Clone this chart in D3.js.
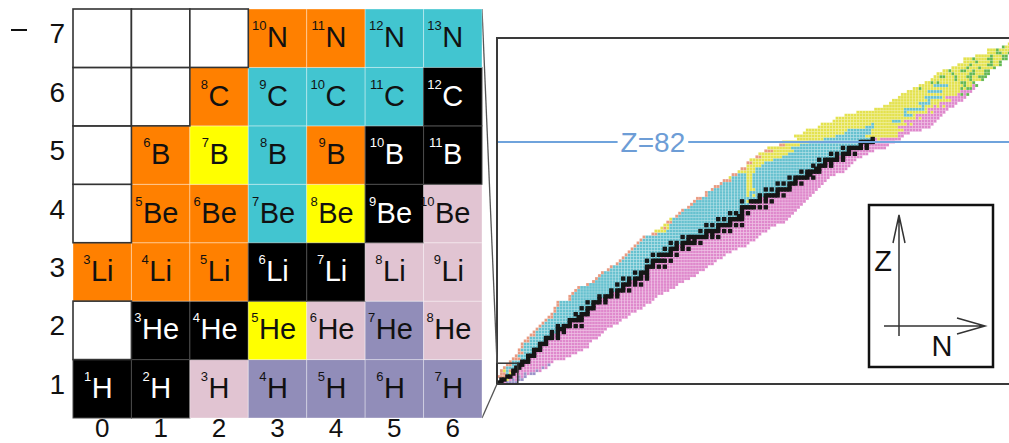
<!DOCTYPE html>
<html>
<head>
<meta charset="utf-8">
<script src="https://cdn.jsdelivr.net/npm/d3@7"></script>
<style>
  body { margin: 0; background: #fff; }
  svg { display: block; font-family: "Liberation Sans", Arial, sans-serif; }
</style>
</head>
<body>
<svg id="chart" width="1009" height="443"></svg>
<script>

// element symbols for the zoomed grid (Z = 1..7)
var elementSymbols = ["H", "He", "Li", "Be", "B", "C", "N"];
var gridN = [0, 1, 2, 3, 4, 5, 6];
var gridZ = [1, 2, 3, 4, 5, 6, 7];

// one row per Z (1..118): first N, then runs of decay mode + length
// k stable, c beta+/EC, m beta-, y alpha, o proton, v neutron, g fission
var isotopeRuns = [
  "0 k2 m1 v4", "1 k2 y1 m1 v1 m1 v2", "0 o3 k2 m2 v1 m1 v1", "1 o2 c1 y1 k1 m3 v1 m1 v2",
  "1 o1 y1 c1 o1 k2 m6 v1 m1", "2 o1 c3 k2 m7 v1 m1", "3 o2 c2 k2 m8 v1", "4 o1 c3 k3 m8",
  "5 o3 c2 k1 m12", "6 o1 c3 k3 m12", "7 o2 c3 k1 m14", "7 o1 c4 k3 m14",
  "8 o1 c5 k1 m16", "8 o1 c5 k3 m14", "9 o2 c5 k1 m15", "10 o1 c5 k3 m1 k1 m13",
  "11 o2 c5 k1 m1 k1 m14", "12 o1 c5 k1 c1 k1 m1 k1 m13", "13 o1 c6 k3 m14",
  "14 o1 c5 k1 c1 k3 m1 k1 m1 k1 m10", "15 o1 c8 k1 m16", "16 o1 c7 k5 m13",
  "17 o2 c8 k2 m15", "18 o1 c7 k1 c1 k3 m14", "19 o1 c10 k1 m16", "19 o1 c8 k1 c1 k3 m16",
  "20 o1 c11 k1 m17", "20 o1 c9 k1 c1 k3 m1 k1 m15", "24 o1 c9 k1 m1 k1 m16",
  "24 o1 c9 k1 c1 k3 m1 k1 m13", "25 o1 c12 k1 m1 k1 m15", "26 o1 c11 k1 c1 k3 m1 k1 m13",
  "27 o1 c14 k1 m17", "30 o1 c9 k1 c1 k3 m1 k1 m1 k1 m12", "32 o1 c11 k1 m1 k1 m16",
  "33 o1 c8 k1 c1 k1 c1 k3 m1 k1 m14", "34 o1 c13 k1 m1 k1 m16", "35 o1 c10 k1 c1 k3 m17",
  "37 o1 c12 k1 m19", "38 o1 c11 k3 m1 k1 m1 k1 m14", "40 o1 c11 k1 m20",
  "41 o1 c8 k1 c1 k5 m1 k1 m15", "42 o1 c12 m21", "43 o1 c8 k1 c1 k5 m1 k1 m16",
  "44 o1 c13 k1 m20", "45 o1 c10 k1 c1 k3 m1 k1 m1 k1 m16", "46 o1 c13 k1 m1 k1 m21",
  "47 o1 c10 k1 c1 k1 c1 k5 m1 k1 m16", "48 o1 c15 k1 m1 k1 m20",
  "49 o1 c12 k1 c1 k7 m1 k1 m1 k1 m13", "52 o2 c16 k1 m1 k1 m16",
  "53 y4 c11 k1 c1 k5 m1 k1 m1 k1 m12", "55 y1 o1 y1 c16 k1 m17",
  "56 y2 c12 k1 c1 k1 c1 k5 m1 k1 m1 k1 m11", "57 o2 c19 k1 m18",
  "58 y1 c15 k1 c1 k1 c1 k5 m15", "60 o1 c20 k2 m16", "61 o1 c16 k1 c1 k1 c1 k1 m1 k1 m15",
  "62 o1 c19 k1 m18", "64 o1 c17 k5 m1 k1 m1 k1 m11", "65 o1 c19 m18",
  "66 o1 c15 k1 c1 y1 k4 m1 k1 m1 k1 m11", "67 o2 c19 k1 m1 k1 m14",
  "70 o1 c13 y1 c1 y1 c1 k1 c1 k5 m1 k1 m9", "70 o1 c13 y1 c9 k1 m12",
  "72 o1 c11 y3 c3 k1 c1 k1 c1 k5 m9", "73 o2 c9 y2 c12 k1 m10",
  "75 o1 c8 y2 c8 k1 c1 k1 c1 k3 m1 k1 m7", "76 o3 c5 y2 c14 k1 m10",
  "78 y1 c5 y2 c12 k1 c1 k5 m1 k1 m5", "79 o2 c3 y2 c18 k2 m8", "81 y6 c15 k1 c1 k5 m8",
  "82 o2 y3 c20 k2 m9", "84 y5 c17 k1 c1 k3 m1 k1 m6", "84 o2 y4 c20 k1 m1 k1 m7",
  "85 y8 c15 k1 c1 k5 m1 k1 m4", "87 o2 y7 c18 k1 m1 k1 m6",
  "88 y10 c14 k1 c1 k1 c1 k3 m1 k1 m4", "90 o3 y7 c18 k1 m8", "91 y8 c17 k1 c1 k5 m1 k1 m6",
  "95 o2 y5 c20 k1 m1 k1 m7", "96 y9 c17 k5 m7", "101 y9 c16 k1 m1 y1 m7",
  "100 y14 c10 y11 m2", "103 y14 c9 y9 m4", "104 y14 c8 y11 m6", "108 y16 c3 y8 m11",
  "109 y17 c1 y11 m1 y1 m7", "113 y20 c3 y1 m11", "114 y27 m1 y1 m6", "117 y20 c3 y1 m9",
  "121 y16 c1 y7 m1 y1 m4", "127 y10 c7 y1 m7", "130 y13 c1 y3 m1 y1 m1 y1 m3",
  "132 y10 c4 y3 m6", "133 y12 c1 y7 m4", "135 y9 c6 y1 m7", "136 y19 m1 g1 m1 g1",
  "138 y7 c5 y6 m4", "140 y2 g1 y13 g1 y1 g2 m1", "142 y5 c5 y5 g1 y2 m1 g1",
  "144 y2 g1 y1 g1 y7 g2 y2 g1", "146 y8 g1 y4 g1 y3 g1", "147 y2 g2 y3 g1 y3 g2 y2 g3",
  "148 y5 g1 y5 g2 y3 g2", "150 y2 g1 y3 g2 y2 g1 y3 g2", "153 y5 g1 y3 g1 y4 g1",
  "155 y4 g1 y5 g2 y2 g1", "157 y4 g1 y4 g1 y2 g1", "157 y3 g1 y4 g2 y3 g2",
  "161 y5 g1 y3 g2", "165 y3 g2 y2 g2", "165 y3 g1 y4 g1", "170 g1 y2 g1 y2",
  "172 y4", "174 y4", "176 y2", "176 y1"
];

var magicLineZ = 82;

// colours per decay mode
var mainColors = { k: "#161616", c: "#66c1cf", m: "#df88cc", y: "#e4e24e", o: "#e99a80", v: "#9a92c8", g: "#61b74f" };
var gridColors = { k: "#000000", c: "#42c5d0", m: "#e1c4d2", y: "#ffff00", o: "#ff8000", v: "#918db9", g: "#61b74f" };

var svg = d3.select("#chart");

//Expand the runs into single nuclides
var cells = [];
isotopeRuns.forEach(function(row, i) {
  var parts = row.split(" "), z = i + 1, n = +parts[0];
  parts.slice(1).forEach(function(t) {
    var count = +t.slice(1);
    for (var k = 0; k < count; k++) {
      cells.push({ z: z, n: n, mode: t[0] });
      n++;
    }
  });
});

// ---------- right panel: whole chart ----------
var x = d3.scaleLinear().domain([0, 172.4]).range([497, 1009]);
var y = d3.scaleLinear().domain([0, 116.5]).range([384, 38]);
var cw = x(1) - x(0), ch = y(0) - y(1);

svg.append("clipPath").attr("id", "panel")
  .append("rect").attr("x", x(0)).attr("y", y(116.5))
  .attr("width", x(172.4) - x(0)).attr("height", y(0) - y(116.5));

var main = svg.append("g").attr("clip-path", "url(#panel)");

main.selectAll("rect.nuc")
  .data(cells.filter(function(d) { return d.mode !== "k"; }))
  .enter().append("rect")
  .attr("class", "nuc")
  .attr("x", function(d) { return x(d.n); })
  .attr("y", function(d) { return y(d.z); })
  .attr("width", cw)
  .attr("height", ch)
  .attr("fill", function(d) { return mainColors[d.mode]; })
  .attr("stroke", "rgba(255,255,255,0.28)")
  .attr("stroke-width", 0.5);

//stable nuclides on top, a little fatter so the valley reads as a line
main.selectAll("rect.stable")
  .data(cells.filter(function(d) { return d.mode === "k"; }))
  .enter().append("rect")
  .attr("class", "stable")
  .attr("x", function(d) { return x(d.n) - 0.7; })
  .attr("y", function(d) { return y(d.z) - 0.7; })
  .attr("width", cw + 1.4)
  .attr("height", ch + 1.4)
  .attr("fill", mainColors.k);

//Z=82 line with its label
var lineY = y(magicLineZ - 0.5);
var label = svg.append("text")
  .attr("x", x(52.5)).attr("y", lineY + 10.5)
  .attr("text-anchor", "middle")
  .attr("font-size", 28).attr("fill", "#6d9dd6")
  .text("Z=" + magicLineZ);
var lw = label.node().getComputedTextLength();
[[x(0), x(52.5) - lw / 2 - 3], [x(52.5) + lw / 2 + 3, x(172.4)]].forEach(function(s) {
  svg.append("line")
    .attr("x1", s[0]).attr("x2", s[1]).attr("y1", lineY).attr("y2", lineY)
    .attr("stroke", "#6fa3dc").attr("stroke-width", 2);
});

//Panel frame (no right side)
svg.append("path")
  .attr("d", "M" + x(172.4) + "," + y(116.5) + "H" + x(0) + "V" + y(0) + "H" + x(172.4))
  .attr("fill", "none").attr("stroke", "#3a3a3a").attr("stroke-width", 2);

//Box marking the zoomed region
svg.append("rect")
  .attr("x", x(0)).attr("y", y(7))
  .attr("width", x(7) - x(0)).attr("height", y(0) - y(7))
  .attr("fill", "none").attr("stroke", "#333").attr("stroke-width", 1.5);

// ---------- left panel: zoomed grid ----------
var gx = d3.scaleBand().domain(gridN).range([73, 482]);
var gy = d3.scaleBand().domain(gridZ.slice().reverse()).range([9, 418]);

//connecting lines from grid to the box
svg.append("line")
  .attr("x1", gx.range()[1]).attr("y1", gy.range()[0])
  .attr("x2", x(0)).attr("y2", y(7))
  .attr("stroke", "#555").attr("stroke-width", 1.3);
svg.append("line")
  .attr("x1", gx.range()[1]).attr("y1", gy.range()[1])
  .attr("x2", x(0)).attr("y2", y(0))
  .attr("stroke", "#555").attr("stroke-width", 1.3);

var gridCells = [];
gridZ.forEach(function(z) {
  gridN.forEach(function(n) {
    var c = cells.filter(function(d) { return d.z === z && d.n === n; })[0];
    gridCells.push({ z: z, n: n, mode: c ? c.mode : null });
  });
});

var grid = svg.append("g");

//colored cells first, then empty cells so their dark borders sit on top
grid.selectAll("rect.full")
  .data(gridCells.filter(function(d) { return d.mode; }))
  .enter().append("rect")
  .attr("class", "full")
  .attr("x", function(d) { return gx(d.n); })
  .attr("y", function(d) { return gy(d.z); })
  .attr("width", gx.bandwidth())
  .attr("height", gy.bandwidth())
  .attr("fill", function(d) { return gridColors[d.mode]; })
  .attr("stroke", function(d) { return d.mode === "k" ? "#4a4a4a" : "rgba(255,255,255,0.35)"; })
  .attr("stroke-width", 1);

grid.selectAll("rect.empty")
  .data(gridCells.filter(function(d) { return !d.mode; }))
  .enter().append("rect")
  .attr("class", "empty")
  .attr("x", function(d) { return gx(d.n); })
  .attr("y", function(d) { return gy(d.z); })
  .attr("width", gx.bandwidth())
  .attr("height", gy.bandwidth())
  .attr("fill", "#fff")
  .attr("stroke", "#333")
  .attr("stroke-width", 1.6);

//cell labels: symbol centred, mass number as superscript to its left
gridCells.filter(function(d) { return d.mode; }).forEach(function(d) {
  var cx = gx(d.n) + gx.bandwidth() / 2,
    cy = gy(d.z) + gy.bandwidth() / 2,
    col = d.mode === "k" ? "#fff" : "#111";
  var sym = grid.append("text")
    .attr("x", cx).attr("y", cy + 9)
    .attr("text-anchor", "middle")
    .attr("font-size", 29).attr("fill", col)
    .text(elementSymbols[d.z - 1]);
  var w = sym.node().getComputedTextLength();
  grid.append("text")
    .attr("x", cx - w / 2 - 0.5).attr("y", cy - 8)
    .attr("text-anchor", "end")
    .attr("font-size", 13).attr("fill", col)
    .text(d.z + d.n);
});

//Axes
var yAxis = svg.append("g")
  .attr("transform", "translate(" + gx.range()[0] + ",0)")
  .call(d3.axisLeft(gy).tickSize(0).tickPadding(8));
var xAxis = svg.append("g")
  .attr("transform", "translate(0," + gy.range()[1] + ")")
  .call(d3.axisBottom(gx).tickSize(0).tickPadding(1));
[yAxis, xAxis].forEach(function(a) {
  a.attr("font-family", null).attr("font-size", null);
  a.select(".domain").remove();
  a.selectAll("text").attr("fill", "#111");
});
yAxis.selectAll("text").attr("font-size", 28).attr("dy", "0.18em");
xAxis.selectAll("text").attr("font-size", 26);

//stray tick mark at the top left
svg.append("line")
  .attr("x1", 11).attr("x2", 27).attr("y1", 30).attr("y2", 30)
  .attr("stroke", "#111").attr("stroke-width", 2);

// ---------- inset with the axis directions ----------
var inset = svg.append("g");
inset.append("rect")
  .attr("x", 869).attr("y", 205).attr("width", 124).attr("height", 162)
  .attr("fill", "#fff").attr("stroke", "#111").attr("stroke-width", 2.5);
inset.append("path")
  .attr("d", "M899,336V215M893,243L899,215L905,243M884,326H985M957,318L985,326L957,334")
  .attr("fill", "none").attr("stroke", "#333").attr("stroke-width", 1.5);
inset.append("text").attr("x", 883).attr("y", 271)
  .attr("text-anchor", "middle").attr("font-size", 29).attr("fill", "#111").text("Z");
inset.append("text").attr("x", 942).attr("y", 356)
  .attr("text-anchor", "middle").attr("font-size", 29).attr("fill", "#111").text("N");

</script>
</body>
</html>
